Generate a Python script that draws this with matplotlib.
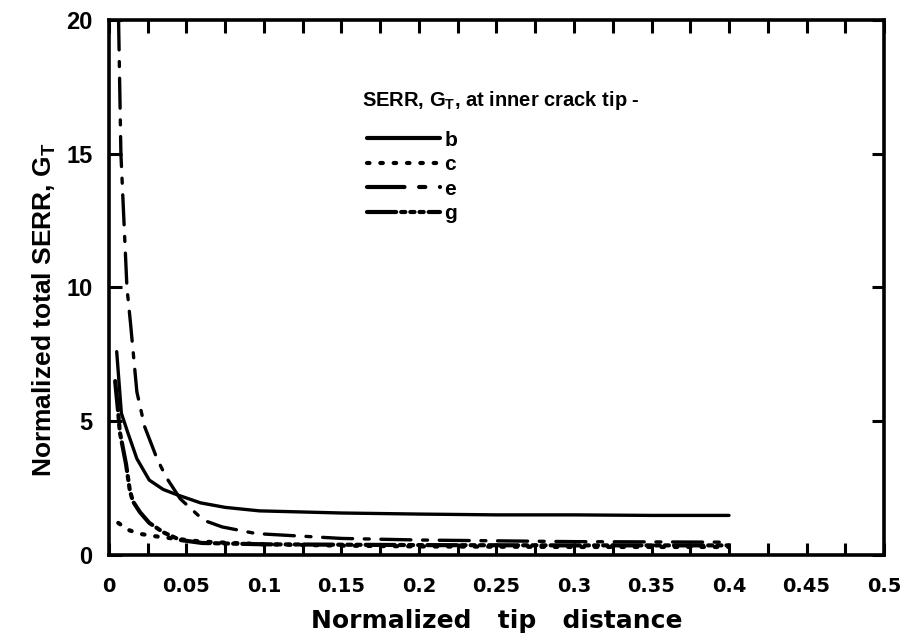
import numpy as np
import matplotlib
matplotlib.use('Agg')
import matplotlib.pyplot as plt
from matplotlib.ticker import MultipleLocator

# values
b_x = [0.005, 0.008, 0.012, 0.018, 0.026, 0.035, 0.044, 0.059, 0.075, 0.097, 0.15, 0.2, 0.25, 0.3, 0.35, 0.4]
b_y = [7.6, 5.3, 4.6, 3.6, 2.8, 2.45, 2.25, 1.95, 1.78, 1.65, 1.57, 1.53, 1.5, 1.5, 1.48, 1.48]

c_x = [0.006, 0.012, 0.019, 0.03, 0.041, 0.06, 0.1, 0.15, 0.2, 0.3, 0.4]
c_y = [1.2, 0.95, 0.8, 0.7, 0.62, 0.5, 0.4, 0.35, 0.32, 0.3, 0.3]

e_x = [0.0062, 0.0077, 0.0116, 0.014, 0.018, 0.023, 0.031, 0.037, 0.046, 0.061, 0.073, 0.095, 0.15, 0.2, 0.3, 0.4]
e_y = [20.0, 15.0, 10.0, 8.6, 6.1, 4.8, 3.6, 2.9, 2.1, 1.3, 1.05, 0.8, 0.62, 0.56, 0.5, 0.48]

g_x = [0.004, 0.006, 0.007, 0.009, 0.011, 0.0125, 0.0135, 0.0155, 0.02, 0.026, 0.035, 0.046, 0.06, 0.1, 0.2, 0.3, 0.4]
g_y = [6.5, 5.3, 4.6, 4.0, 3.4, 2.8, 2.4, 2.0, 1.6, 1.2, 0.85, 0.56, 0.45, 0.4, 0.37, 0.36, 0.36]

x_ticks = [0, 0.05, 0.1, 0.15, 0.2, 0.25, 0.3, 0.35, 0.4, 0.45, 0.5]
x_labels = ['0', '0.05', '0.1', '0.15', '0.2', '0.25', '0.3', '0.35', '0.4', '0.45', '0.5']
y_ticks = [0, 5, 10, 15, 20]

plt.rcParams['font.family'] = ['Liberation Sans', 'DejaVu Sans']

fig = plt.figure(figsize=(9.08, 6.42), dpi=100)
ax = fig.add_axes([0.12, 0.1355, 0.8536, 0.8335])

lw = 2.4
ax.plot(b_x, b_y, color='black', lw=lw, solid_capstyle='round', label='b')
ax.plot(c_x, c_y, color='black', lw=lw + 0.6, dashes=(0.6, 2.6), dash_capstyle='round', label='c')
ax.plot(e_x, e_y, color='black', lw=lw, dashes=(9, 3.5, 1.5, 3.5), dash_capstyle='round', label='e')
ax.plot(g_x, g_y, color='black', lw=lw + 0.6, dashes=(7, 1.2, 1.0, 1.2, 1.0, 1.2, 1.0, 1.2),
        dash_capstyle='round', label='g')

ax.set_xlim(0, 0.5)
ax.set_ylim(0, 20)
ax.set_xticks(x_ticks)
ax.set_xticklabels(x_labels)
ax.set_yticks(y_ticks)
ax.xaxis.set_minor_locator(MultipleLocator(0.025))

for s in ax.spines.values():
    s.set_linewidth(2.6)

ax.tick_params(which='both', direction='in', top=True, right=True, width=2.2, length=9)
ax.tick_params(axis='x', which='major', pad=16)
ax.tick_params(axis='y', which='major', pad=12, labelsize=17)
for lab in ax.get_xticklabels():
    lab.set_fontweight('bold')
    lab.set_family('DejaVu Sans')
    lab.set_fontsize(14)
for lab in ax.get_yticklabels():
    lab.set_fontweight('bold')

ax.set_xlabel('Normalized   tip   distance', fontsize=18, fontweight='bold',
              family='DejaVu Sans', labelpad=9)
ax.set_ylabel('Normalized total SERR, G$_\\mathregular{T}$', fontsize=19, fontweight='bold')
ax.yaxis.set_label_coords(-0.066, 0.458)

ax.text(0.326, 0.850, 'SERR, G$_\\mathregular{T}$, at inner crack tip -', transform=ax.transAxes,
        fontsize=14.5, fontweight='bold', ha='left', va='center')

leg = ax.legend(loc='upper left', bbox_to_anchor=(0.333, 0.793), frameon=False, handlelength=3.5,
                handletextpad=0.2, labelspacing=0.26, borderpad=0, borderaxespad=0,
                prop={'weight': 'bold', 'size': 15})
for h in leg.get_lines():
    h.set_linewidth(3)

fig.savefig('out.png', dpi=100)
